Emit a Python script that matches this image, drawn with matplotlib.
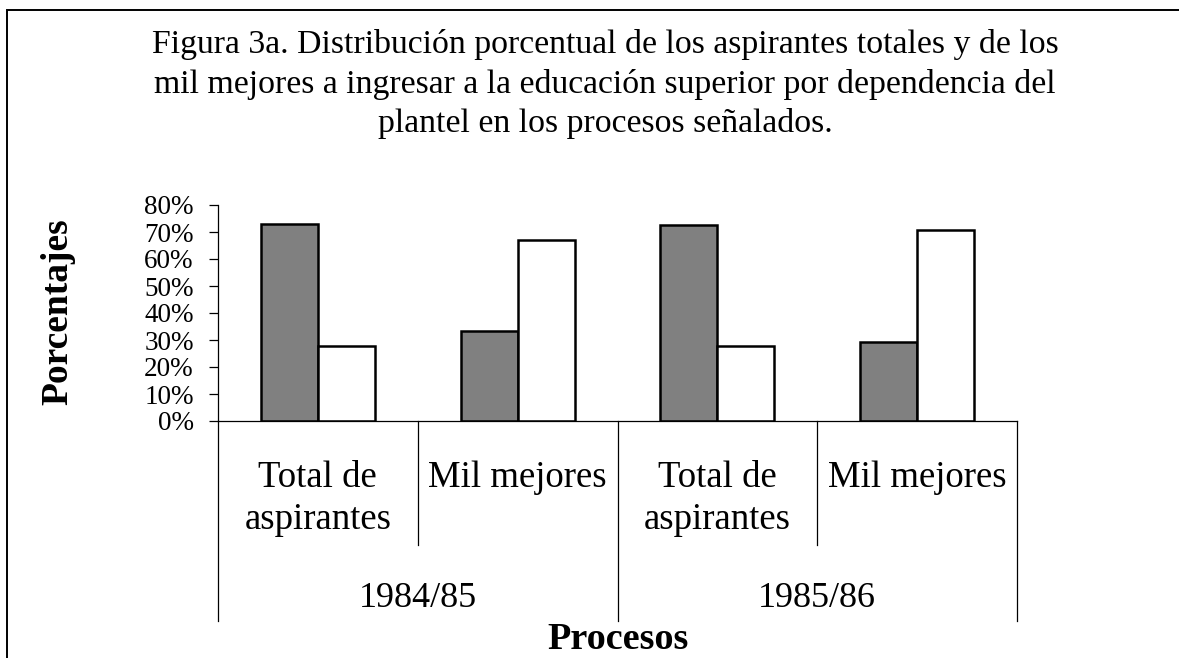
import numpy as np
from matplotlib import pyplot as plt
from matplotlib.patches import Rectangle

plt.rcParams['font.family'] = ['Liberation Serif', 'DejaVu Serif']

categorias = ['Total de\naspirantes', 'Mil mejores', 'Total de\naspirantes', 'Mil mejores']
procesos = ['1984/85', '1985/86']
serie_gris = [0.728, 0.332, 0.727, 0.294]
serie_blanca = [0.276, 0.670, 0.277, 0.706]
yticks = [0, 0.1, 0.2, 0.3, 0.4, 0.5, 0.6, 0.7, 0.8]
titulo = ('Figura 3a. Distribución porcentual de los aspirantes totales y de los\n'
          'mil mejores a ingresar a la educación superior por dependencia del\n'
          'plantel en los procesos señalados.')

W, H = 1179, 658
fig = plt.figure(figsize=(W / 100, H / 100), dpi=100)

# marco alrededor de la figura
fig.patches.append(Rectangle((7 / W, -0.05), 1.2, 1 - 10 / H + 0.05, transform=fig.transFigure,
                             fill=False, edgecolor='black', linewidth=1.4))

ax = fig.add_axes([218 / W, 237 / H, (1017 - 218) / W, 216 / H])

x = np.arange(len(categorias)) + 0.5
w = 0.285
ax.bar(x - w / 2, serie_gris, width=w, color='#808080', edgecolor='black', linewidth=1.8)
ax.bar(x + w / 2, serie_blanca, width=w, color='white', edgecolor='black', linewidth=1.8)

ax.set_xlim(0, len(categorias))
ax.set_ylim(0, 0.8)
ax.set_yticks(yticks)
ax.set_yticklabels(['%d%%' % round(v * 100) for v in yticks], fontsize=19.5)
ax.tick_params(axis='y', length=6.5, width=0.9, pad=11)
ax.set_xticks([])
for s in ['top', 'right']:
    ax.spines[s].set_visible(False)
ax.spines['left'].set_linewidth(0.9)
ax.spines['bottom'].set_linewidth(0.9)

tr = ax.get_xaxis_transform()
# separadores del eje de categorias
for i in range(len(categorias) + 1):
    fondo = -0.926 if i % 2 == 0 else -0.574
    ax.plot([i, i], [0, fondo], color='black', linewidth=0.9, transform=tr, clip_on=False)

for i, c in enumerate(categorias):
    ax.text(x[i], -0.185, c, transform=tr, ha='center', va='top', fontsize=26.5, linespacing=1.25)

for j, p in enumerate(procesos):
    ax.text(2 * j + 1, -0.824, p, transform=tr, ha='center', va='center', fontsize=26)

ax.text(2, -1.01, 'Procesos', transform=tr, ha='center', va='center', fontsize=27.5, fontweight='bold')
fig.text(58 / W, 1 - 312 / H, 'Porcentajes', rotation=90, ha='center', va='center',
         fontsize=27, fontweight='bold')

fig.text(605 / W, 1 - 84 / H, titulo, ha='center', va='center', fontsize=24.3, linespacing=1.35)

plt.savefig('out.png', dpi=100)
